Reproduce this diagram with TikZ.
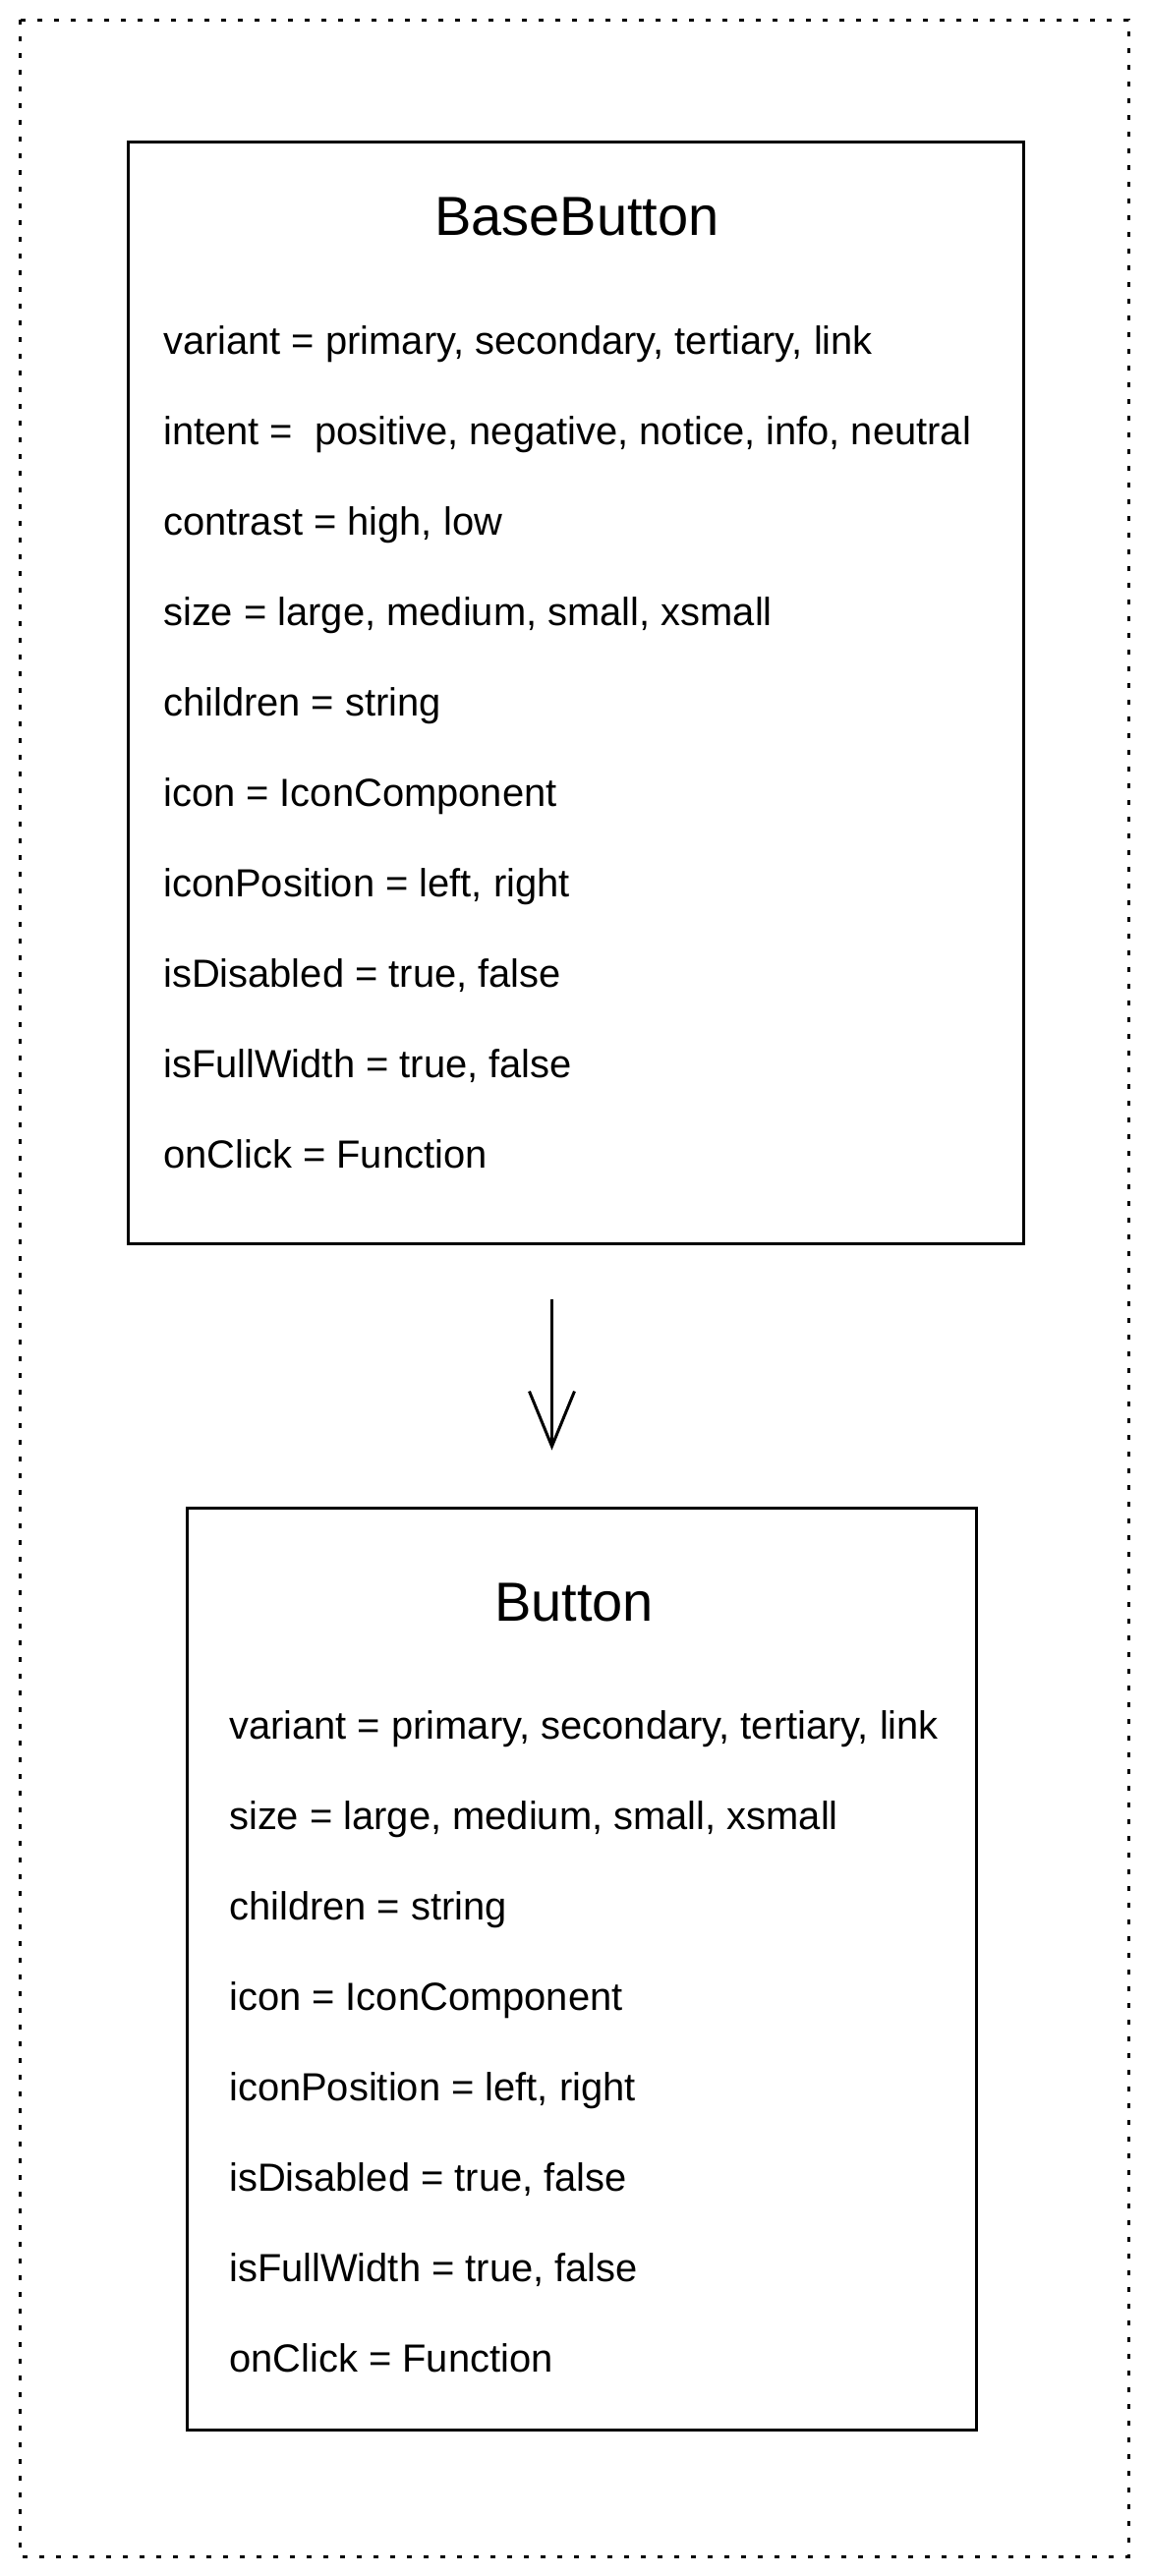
\documentclass[tikz,border=0pt]{standalone}
\usepackage{fontspec}
\setmainfont{Liberation Sans}
\usetikzlibrary{arrows.meta}
\begin{document}
\begin{tikzpicture}[x=1pt,y=-1pt,
  umlbox/.style={draw=black, line width=3pt, rectangle, inner sep=0pt},
  frameline/.style={draw=black, line width=3pt, dash pattern=on 5pt off 12pt},
  titletext/.style={inner sep=0pt, anchor=base, font=\fontsize{56}{60}\selectfont},
  proptext/.style={inner sep=0pt, anchor=base west, font=\fontsize{39.9}{44}\selectfont},
  inherit/.style={draw=black, line width=3pt, -{Straight Barb[length=56pt,width=46pt,line width=3pt]}}
]
\useasboundingbox (0,0) rectangle (1168,2621);
\fill[white] (0,0) rectangle (1168,2621);
\draw[frameline] (20,20) rectangle (1148,2601);

% BaseButton
\node[umlbox, minimum width=911pt, minimum height=1121pt] (base) at (585.5,704.5) {};
\node[titletext] (basetitle) at (587,239) {BaseButton};
\node[proptext] (bp1) at (166,360) {variant = primary, secondary, tertiary, link};
\node[proptext] (bp2) at (166,452) {intent = \ positive, negative, notice, info, neutral};
\node[proptext] (bp3) at (166,544) {contrast = high, low};
\node[proptext] (bp4) at (166,636) {size = large, medium, small, xsmall};
\node[proptext] (bp5) at (166,728) {children = string};
\node[proptext] (bp6) at (166,820) {icon = IconComponent};
\node[proptext] (bp7) at (166,912) {iconPosition = left, right};
\node[proptext] (bp8) at (166,1004) {isDisabled = true, false};
\node[proptext] (bp9) at (166,1096) {isFullWidth = true, false};
\node[proptext] (bp10) at (166,1188) {onClick = Function};

% Button
\node[umlbox, minimum width=803pt, minimum height=938pt] (btn) at (591.5,2003) {};
\node[titletext] (btntitle) at (584,1649) {Button};
\node[proptext] (np1) at (233,1769) {variant = primary, secondary, tertiary, link};
\node[proptext] (np2) at (233,1861) {size = large, medium, small, xsmall};
\node[proptext] (np3) at (233,1953) {children = string};
\node[proptext] (np4) at (233,2045) {icon = IconComponent};
\node[proptext] (np5) at (233,2137) {iconPosition = left, right};
\node[proptext] (np6) at (233,2229) {isDisabled = true, false};
\node[proptext] (np7) at (233,2321) {isFullWidth = true, false};
\node[proptext] (np8) at (233,2413) {onClick = Function};

% arrow
\coordinate (ax) at (561.5,0);
\draw[inherit, shorten <=55pt, shorten >=57pt] (base.south -| ax) -- (btn.north -| ax);
\end{tikzpicture}
\end{document}
